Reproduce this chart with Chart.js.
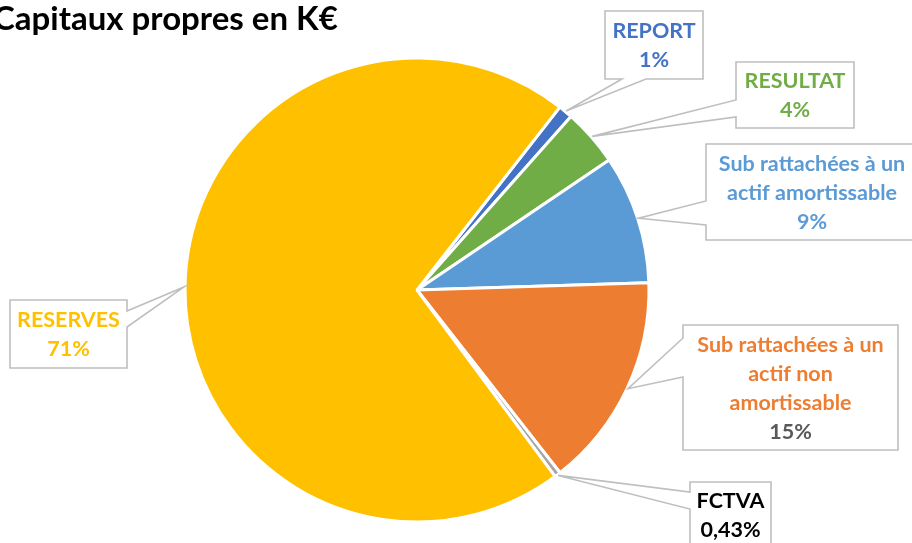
<!DOCTYPE html>
<html lang="fr">
<head>
<meta charset="utf-8">
<title>Capitaux propres en K€</title>
<script src="https://cdn.jsdelivr.net/npm/chart.js@4/dist/chart.umd.min.js"></script>
<style>
  html, body { margin: 0; padding: 0; background: #ffffff; }
  #wrap { position: relative; width: 912px; height: 543px; overflow: hidden; }
  canvas { display: block; }
</style>
</head>
<body>
<div id="wrap"><canvas id="pie" width="912" height="543"></canvas></div>
<script>
// Postes des capitaux propres (libellés sur plusieurs lignes) et parts en %
const categories = [
  ['REPORT'],
  ['RESULTAT'],
  ['Sub rattachées à un', 'actif amortissable'],
  ['Sub rattachées à un', 'actif non', 'amortissable'],
  ['FCTVA'],
  ['RESERVES']
];
const shares = [1, 4, 9, 15, 0.43, 71];

// Couleurs des parts, des libellés et des pourcentages
const sliceColors = ['#4472C4', '#70AD47', '#5B9BD5', '#ED7D31', '#A5A5A5', '#FFC000'];
const nameColors  = ['#4472C4', '#70AD47', '#5B9BD5', '#ED7D31', '#000000', '#FFC000'];
const pctColors   = ['#4472C4', '#70AD47', '#5B9BD5', '#595959', '#000000', '#FFC000'];

// Bulles d'étiquette : cadre (x, y, l, h) et base de la pointe sur un côté
const callouts = [
  { x: 605, y: 11,  w: 98,  h: 68,  side: 'bottom', a: 622, b: 646 },
  { x: 736, y: 62,  w: 118, h: 66,  side: 'left',   a: 100, b: 117 },
  { x: 706, y: 144, w: 212, h: 96,  side: 'left',   a: 201, b: 225 },
  { x: 683, y: 325, w: 215, h: 125, side: 'left',   a: 338, b: 377 },
  { x: 690, y: 482, w: 81,  h: 66,  side: 'left',   a: 492, b: 509 },
  { x: 10,  y: 300, w: 117, h: 68,  side: 'right',  a: 311, b: 327 }
];

const FONT = 'Lato, "Open Sans", "DejaVu Sans", sans-serif';
const LABEL_SIZE = 21.5;
const LINE_H = 29;

function formatPct(v) {
  return Number.isInteger(v) ? v + '%' : v.toFixed(2).replace('.', ',') + '%';
}

function calloutPath(ctx, c, tx, ty) {
  const r = c.x + c.w, btm = c.y + c.h;
  ctx.beginPath();
  if (c.side === 'bottom') {
    ctx.moveTo(c.x, c.y); ctx.lineTo(r, c.y); ctx.lineTo(r, btm);
    ctx.lineTo(c.b, btm); ctx.lineTo(tx, ty); ctx.lineTo(c.a, btm);
    ctx.lineTo(c.x, btm);
  } else if (c.side === 'left') {
    ctx.moveTo(c.x, c.y); ctx.lineTo(r, c.y); ctx.lineTo(r, btm);
    ctx.lineTo(c.x, btm); ctx.lineTo(c.x, c.b); ctx.lineTo(tx, ty);
    ctx.lineTo(c.x, c.a);
  } else {
    ctx.moveTo(c.x, c.y); ctx.lineTo(r, c.y); ctx.lineTo(r, c.a);
    ctx.lineTo(tx, ty); ctx.lineTo(r, c.b); ctx.lineTo(r, btm);
    ctx.lineTo(c.x, btm);
  }
  ctx.closePath();
}

const calloutPlugin = {
  id: 'calloutLabels',
  afterDatasetsDraw(chart) {
    const ctx = chart.ctx;
    const meta = chart.getDatasetMeta(0);
    ctx.save();
    meta.data.forEach((arc, i) => {
      const p = arc.getProps(['x', 'y', 'startAngle', 'endAngle', 'outerRadius'], true);
      const mid = (p.startAngle + p.endAngle) / 2;
      const tx = p.x + Math.cos(mid) * (p.outerRadius + 1);
      const ty = p.y + Math.sin(mid) * (p.outerRadius + 1);
      const c = callouts[i];
      calloutPath(ctx, c, tx, ty);
      ctx.fillStyle = '#ffffff';
      ctx.fill();
      ctx.lineWidth = 1.6;
      ctx.strokeStyle = '#BFBFBF';
      ctx.lineJoin = 'miter';
      ctx.stroke();

      const lines = categories[i].concat([formatPct(shares[i])]);
      const cx = c.x + c.w / 2;
      const cy = c.y + c.h / 2;
      ctx.font = 'bold ' + LABEL_SIZE + 'px ' + FONT;
      ctx.textAlign = 'center';
      ctx.textBaseline = 'alphabetic';
      lines.forEach((t, k) => {
        const lineCenter = cy + (k - (lines.length - 1) / 2) * LINE_H;
        ctx.fillStyle = k === lines.length - 1 ? pctColors[i] : nameColors[i];
        ctx.fillText(t, cx, lineCenter + 7.5);
      });
    });

    // Titre du graphique
    ctx.font = 'bold 33px ' + FONT;
    ctx.textAlign = 'left';
    ctx.fillStyle = '#000000';
    ctx.fillText('Capitaux propres en K€', -7, 30);
    ctx.restore();
  }
};

new Chart(document.getElementById('pie'), {
  type: 'pie',
  data: {
    labels: categories,
    datasets: [{
      data: shares,
      backgroundColor: sliceColors,
      borderColor: '#ffffff',
      borderWidth: 3
    }]
  },
  options: {
    responsive: false,
    animation: false,
    events: [],
    rotation: 38,
    layout: { padding: { left: 183.5, top: 56.5, right: 261.5, bottom: 19.5 } },
    plugins: {
      legend: { display: false },
      title: { display: false },
      tooltip: { enabled: false }
    }
  },
  plugins: [calloutPlugin]
});
</script>
</body>
</html>
